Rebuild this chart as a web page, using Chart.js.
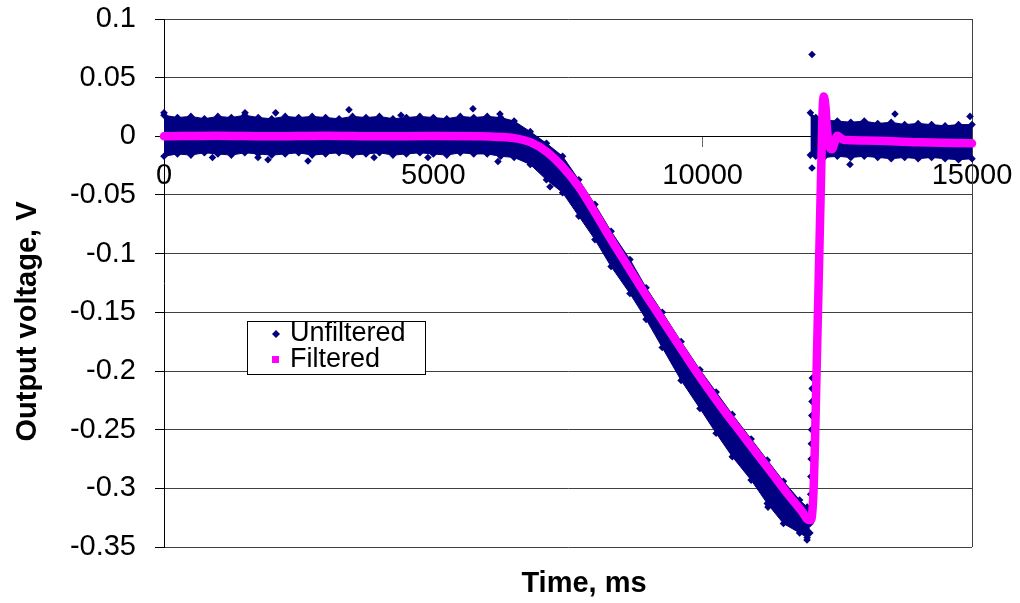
<!DOCTYPE html>
<html><head><meta charset="utf-8">
<script src="https://cdn.jsdelivr.net/npm/chart.js@4.4.1/dist/chart.umd.min.js"></script>
<style>html,body{margin:0;padding:0;background:#fff}#wrap{width:1020px;height:603px}</style>
</head><body><div id="wrap"><canvas id="c" width="1020" height="603"></canvas></div>
<script>
// ---- data ----
const xTickValues = [0, 5000, 10000, 15000];
const xTickLabels = ['0', '5000', '10000', '15000'];
const yTickValues = [0.1, 0.05, 0, -0.05, -0.1, -0.15, -0.2, -0.25, -0.3, -0.35];
const yTickLabels = ['0.1', '0.05', '0', '-0.05', '-0.1', '-0.15', '-0.2', '-0.25', '-0.3', '-0.35'];
const seriesNames = ['Unfiltered', 'Filtered'];

const filteredTimes = [0, 1000, 2000, 3000, 4000, 5000, 5800, 6200, 6500, 6800, 7100, 7400, 7700, 8000, 8300, 8600, 8900, 9200, 9500, 9800, 10100, 10400, 10700, 11000, 11300, 11600, 11850, 11960, 12010, 12050, 12080, 12110, 12140, 12170, 12200, 12225, 12250, 12280, 12310, 12350, 12400, 12450, 12500, 12550, 12620, 13000, 14000, 15000];
const filteredValues = [0, 0.0005, 0, 0.0005, 0, 0.0003, 0, -0.0005, -0.0015, -0.005, -0.013, -0.026, -0.043, -0.065, -0.088, -0.110, -0.132, -0.153, -0.174, -0.195, -0.215, -0.234, -0.252, -0.270, -0.288, -0.306, -0.320, -0.327, -0.327, -0.31, -0.27, -0.21, -0.15, -0.09, -0.03, 0.02, 0.034, 0.025, 0.005, -0.008, -0.011, -0.005, 0.0005, -0.001, -0.003, -0.0035, -0.005, -0.006];

// unfiltered noise band (edges of the dense cloud), before the step
const bandATimes = [0, 250, 500, 750, 1000, 1250, 1500, 1750, 2000, 2250, 2500, 2750, 3000, 3250, 3500, 3750, 4000, 4250, 4500, 4750, 5000, 5250, 5500, 5750, 6000, 6250, 6500, 6800, 7100, 7400, 7700, 8000, 8300, 8650, 8950, 9250, 9600, 9950, 10250, 10550, 10900, 11200, 11500, 11800, 11940, 11990];
const bandAUpper = [0.018, 0.016, 0.017, 0.015, 0.017, 0.016, 0.018, 0.016, 0.015, 0.017, 0.016, 0.017, 0.016, 0.015, 0.017, 0.016, 0.017, 0.015, 0.016, 0.017, 0.016, 0.015, 0.017, 0.016, 0.017, 0.016, 0.013, 0.004, -0.006, -0.017, -0.037, -0.058, -0.081, -0.105, -0.129, -0.150, -0.175, -0.199, -0.218, -0.237, -0.258, -0.276, -0.294, -0.310, -0.316, -0.320];
const bandALower = [-0.017, -0.015, -0.016, -0.014, -0.015, -0.016, -0.014, -0.015, -0.016, -0.015, -0.014, -0.016, -0.015, -0.014, -0.016, -0.015, -0.014, -0.016, -0.015, -0.014, -0.015, -0.016, -0.014, -0.015, -0.015, -0.017, -0.018, -0.024, -0.037, -0.048, -0.068, -0.088, -0.111, -0.134, -0.156, -0.180, -0.208, -0.232, -0.253, -0.273, -0.293, -0.313, -0.330, -0.338, -0.342, -0.338];

// unfiltered noise band after the step
const bandBTimes = [12000, 12100, 12250, 12500, 12750, 13000, 13250, 13500, 13750, 14000, 14250, 14500, 14750, 15000];
const bandBUpper = [0.020, 0.016, 0.014, 0.013, 0.012, 0.013, 0.011, 0.012, 0.010, 0.011, 0.010, 0.009, 0.010, 0.010];
const bandBLower = [-0.016, -0.017, -0.018, -0.017, -0.018, -0.017, -0.018, -0.019, -0.018, -0.019, -0.018, -0.019, -0.020, -0.019];

// individual unfiltered samples (outliers and the fast step)
const unfilteredTimes = [0, 900, 1504, 1745, 1931, 2073, 2673, 3434, 3900, 4400, 4900, 5736, 6200, 6237, 7166, 7351, 11213, 11937, 11995, 12000, 12005, 12010, 12014, 12018, 12022, 12026, 12030, 12033, 12036, 12030, 12030, 12735, 13570, 14963];
const unfilteredValues = [0.020, -0.018, 0.020, -0.018, -0.020, 0.020, -0.021, 0.0226, -0.018, 0.018, -0.018, 0.0235, -0.0215, 0.019, -0.043, -0.0385, -0.316, -0.344, -0.330, -0.318, -0.305, -0.290, -0.275, -0.262, -0.250, -0.238, -0.226, -0.215, -0.206, 0.0698, -0.027, -0.024, 0.019, 0.017];

// ---- styling ----
const NAVY = '#000080';
const MAGENTA = '#ff00ff';
const FONT = '"Liberation Sans", Arial, sans-serif';
const pts = (ts, vs) => ts.map((t, i) => ({ x: t, y: vs[i] }));

const bandStyle = {
  showLine: true, borderColor: NAVY, borderWidth: 1, backgroundColor: NAVY,
  pointStyle: 'rectRot', pointRadius: 3.8, pointBackgroundColor: NAVY, pointBorderWidth: 0,
  pointHoverRadius: 3.8, tension: 0, clip: false
};

const decor = {
  id: 'decor',
  beforeDraw(chart) {
    const c = chart.ctx;
    c.save(); c.fillStyle = '#fff'; c.fillRect(0, 0, chart.width, chart.height); c.restore();
  },
  beforeDatasetsDraw(chart) {
    const c = chart.ctx, a = chart.chartArea;
    c.save();
    c.strokeStyle = '#404040'; c.lineWidth = 1;
    const x = Math.round(a.right) + 0.5;
    c.beginPath(); c.moveTo(x, a.top); c.lineTo(x, a.bottom); c.stroke();
    c.restore();
  },
  afterDraw(chart) {
    const c = chart.ctx;
    c.save();
    c.fillStyle = '#000';
    c.font = 'bold 29px ' + FONT;
    c.textAlign = 'center'; c.textBaseline = 'alphabetic';
    c.fillText('Time, ms', 584, 592);
    c.save();
    c.translate(36, 321.5); c.rotate(-Math.PI / 2);
    c.fillText('Output voltage, V', 0, 0);
    c.restore();
    // legend
    c.fillStyle = '#fff';
    c.fillRect(247, 321, 178, 53);
    c.strokeStyle = '#000'; c.lineWidth = 1;
    c.strokeRect(247.5, 321.5, 178, 53);
    c.fillStyle = NAVY;
    c.beginPath(); c.moveTo(276, 330); c.lineTo(280, 334); c.lineTo(276, 338); c.lineTo(272, 334); c.closePath(); c.fill();
    c.fillStyle = MAGENTA;
    c.fillRect(272, 356, 7, 7);
    c.fillStyle = '#000';
    c.font = '27px ' + FONT;
    c.textAlign = 'left'; c.textBaseline = 'middle';
    c.fillText(seriesNames[0], 290, 334);
    c.fillText(seriesNames[1], 290, 360);
    c.restore();
  }
};

new Chart(document.getElementById('c'), {
  type: 'line',
  data: {
    datasets: [
      { label: seriesNames[1], data: pts(filteredTimes, filteredValues), showLine: true,
        borderColor: MAGENTA, borderWidth: 8.5, pointRadius: 0, cubicInterpolationMode: 'monotone',
        borderJoinStyle: 'round', borderCapStyle: 'round', fill: false, clip: false },
      { label: seriesNames[0], data: pts(unfilteredTimes, unfilteredValues), showLine: false,
        pointStyle: 'rectRot', pointRadius: 3.8, pointBackgroundColor: NAVY, pointBorderWidth: 0,
        backgroundColor: NAVY, borderColor: NAVY, clip: false },
      Object.assign({ label: '', data: pts(bandATimes, bandAUpper), fill: '+1' }, bandStyle),
      Object.assign({ label: '', data: pts(bandATimes, bandALower), fill: false }, bandStyle),
      Object.assign({ label: '', data: pts(bandBTimes, bandBUpper), fill: '+1' }, bandStyle),
      Object.assign({ label: '', data: pts(bandBTimes, bandBLower), fill: false }, bandStyle)
    ]
  },
  options: {
    responsive: false,
    animation: false,
    devicePixelRatio: 1,
    events: [],
    layout: { padding: { top: 19, right: 48, bottom: 56, left: 0 } },
    plugins: { legend: { display: false }, tooltip: { enabled: false }, title: { display: false } },
    scales: {
      x: {
        type: 'linear', position: { y: 0 }, min: 0, max: 15000,
        afterBuildTicks: s => { s.ticks = xTickValues.map(v => ({ value: v })); },
        afterFit: s => { s.paddingLeft = 0; s.paddingRight = 0; s.paddingTop = 0; s.paddingBottom = 0; },
        ticks: { font: { family: FONT, size: 29 }, color: '#000', padding: 12, maxRotation: 0, autoSkip: false,
          callback: (v) => xTickLabels[xTickValues.indexOf(v)] },
        grid: { display: true, drawOnChartArea: false, drawTicks: true, tickLength: 10, color: '#666' },
        border: { display: true, color: '#000', width: 1 }
      },
      y: {
        type: 'linear', min: -0.35, max: 0.1,
        afterBuildTicks: s => { s.ticks = yTickValues.map(v => ({ value: v })); },
        afterFit: s => { s.width = 164; s.paddingTop = 0; s.paddingBottom = 0; s.paddingLeft = 0; s.paddingRight = 0; },
        ticks: { font: { family: FONT, size: 29 }, color: '#000', padding: 19,
          callback: (v) => { const i = yTickValues.findIndex(t => Math.abs(t - v) < 1e-9); return i >= 0 ? yTickLabels[i] : ''; } },
        grid: { color: '#404040', lineWidth: 1, tickLength: 9, tickColor: '#000' },
        border: { display: true, color: '#000', width: 1 }
      }
    }
  },
  plugins: [decor]
});
</script>
</body></html>
